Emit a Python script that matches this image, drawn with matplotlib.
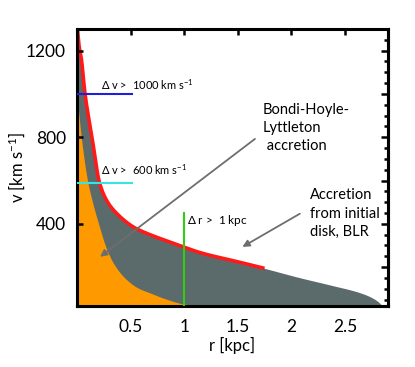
import matplotlib
matplotlib.use("Agg")
import matplotlib.pyplot as plt
from matplotlib.ticker import MultipleLocator
import numpy as np

plt.rcParams['font.family'] = ['Lato', 'DejaVu Sans']
plt.rcParams['mathtext.fontset'] = 'custom'
plt.rcParams['mathtext.rm'] = 'Lato'
plt.rcParams['mathtext.it'] = 'Lato:italic'
plt.rcParams['mathtext.bf'] = 'Lato:bold'

# Upper envelope of the distribution (gray top / red edge)
r_upper = [0.005, 0.02, 0.04, 0.075, 0.14, 0.21, 0.28, 0.37, 0.53, 0.65, 0.87,
           1.00, 1.14, 1.52, 1.75, 2.07, 2.38, 2.63, 2.76, 2.84, 2.86]
v_upper = [1300, 1220, 1165, 1000, 800, 590, 505, 448, 384, 356, 315,
           292, 268, 222, 194, 152, 115, 83, 56, 23, 0]
# Red edge drawn up to this radius
r_red_end = 1.75

# Upper boundary of the Bondi-Hoyle-Lyttleton (orange) region
r_orange = [0.0, 0.04, 0.10, 0.14, 0.20, 0.27, 0.34, 0.44, 0.56, 0.69, 0.81, 0.97, 1.12, 1.20]
v_orange = [1000, 800, 595, 509, 402, 292, 218, 153, 106, 79, 56, 32, 20, 0]

# Threshold markers
dv1, dv1_rmax = 1000, 0.51
dv2, dv2_rmax = 590, 0.51
dr, dr_vmax = 1.0, 452


def pchip(x, y, xn):
    x = np.asarray(x, float); y = np.asarray(y, float)
    h = np.diff(x); d = np.diff(y) / h
    m = np.zeros_like(y)
    for k in range(1, len(x) - 1):
        if d[k - 1] * d[k] > 0:
            w1 = 2 * h[k] + h[k - 1]; w2 = h[k] + 2 * h[k - 1]
            m[k] = (w1 + w2) / (w1 / d[k - 1] + w2 / d[k])
    m[0] = d[0]; m[-1] = d[-1]
    idx = np.clip(np.searchsorted(x, xn) - 1, 0, len(h) - 1)
    t = (xn - x[idx]) / h[idx]
    h00 = 2 * t**3 - 3 * t**2 + 1; h10 = t**3 - 2 * t**2 + t
    h01 = -2 * t**3 + 3 * t**2; h11 = t**3 - t**2
    return h00 * y[idx] + h10 * h[idx] * m[idx] + h01 * y[idx + 1] + h11 * h[idx] * m[idx + 1]


fig = plt.figure(figsize=(4.15, 3.67), dpi=100)
ax = fig.add_axes([0.1855, 0.166, 0.7495, 0.755])

gray = '#5b6a6b'
orange = '#ff9900'

rr = np.linspace(0.0, 2.86, 1200)
vu = np.clip(pchip(r_upper, v_upper, np.clip(rr, r_upper[0], r_upper[-1])), 0, None)
ax.fill_between(rr, 0, vu, color=gray, lw=0, zorder=1)
vo = np.clip(pchip(r_orange, v_orange, np.clip(rr, r_orange[0], r_orange[-1])), 0, None)
vo = np.where(rr > r_orange[-1], 0, np.minimum(vo, vu))
ax.fill_between(rr, 0, vo, color=orange, lw=0, zorder=1.1)

mask = rr <= r_red_end
ax.plot(rr[mask], vu[mask], color='#ff1a1a', lw=2.6, zorder=1.5, solid_capstyle='butt')

ax.plot([0, dv1_rmax], [dv1, dv1], color='#1f1fd6', lw=1.5, zorder=3)
ax.plot([0, dv2_rmax], [dv2, dv2], color='#33e5e5', lw=1.5, zorder=3)
ax.plot([dr, dr], [0, dr_vmax], color='#33cc11', lw=1.5, zorder=3)

ax.text(0.22, 1010, r'$\Delta$ v >  1000 km s$^{-1}$', fontsize=8, ha='left', va='bottom')
ax.text(0.22, 615, r'$\Delta$ v >  600 km s$^{-1}$', fontsize=8, ha='left', va='bottom')
ax.text(1.03, 380, r'$\Delta$ r >  1 kpc', fontsize=8.5, ha='left', va='bottom')

ax.text(1.73, 960, 'Bondi-Hoyle-\nLyttleton\n accretion', fontsize=10.5, ha='left', va='top',
        linespacing=1.4)
ax.text(2.17, 565, 'Accretion\nfrom initial\ndisk, BLR', fontsize=10.5, ha='left', va='top',
        linespacing=1.4)

arrow_kw = dict(arrowstyle='-|>', color='#6e6e6e', lw=1.3, mutation_scale=10)
ax.annotate('', xy=(0.195, 240), xytext=(1.68, 800), arrowprops=arrow_kw, zorder=4)
ax.annotate('', xy=(1.52, 287), xytext=(2.10, 453), arrowprops=arrow_kw, zorder=4)

ax.set_xlim(0, 2.9)
ax.set_ylim(20, 1300)

ax.set_xticks([0.5, 1, 1.5, 2, 2.5])
ax.set_xticklabels(['0.5', '1', '1.5', '2', '2.5'])
ax.set_yticks([400, 800, 1200])
ax.set_yticklabels(['400', '800', '1200'])
ax.tick_params(axis='both', which='major', direction='in', length=4, width=1.8,
               labelsize=12.5, top=True, right=False, pad=8)
ax.tick_params(axis='x', which='major', bottom=False, pad=9)

secx = ax.secondary_xaxis('bottom')
secx.set_xticks([2])
secx.tick_params(direction='in', length=4, width=1.8, labelbottom=False)

sec = ax.secondary_yaxis('right')
sec.set_yticks([200, 400, 600, 800, 1000, 1200])
sec.yaxis.set_minor_locator(MultipleLocator(50))
sec.tick_params(which='major', direction='in', length=5, width=1.8, labelright=False)
sec.tick_params(which='minor', direction='in', length=3, width=1.8)
sec.spines['right'].set_linewidth(2.2)
secx.spines['bottom'].set_linewidth(2.2)

for s in ax.spines.values():
    s.set_linewidth(2.2)

ax.set_xlabel('r [kpc]', fontsize=12, labelpad=2)
ax.set_ylabel(r'v [km s$^{-1}$]', fontsize=12, labelpad=-1)

fig.savefig('out.png', dpi=100)
